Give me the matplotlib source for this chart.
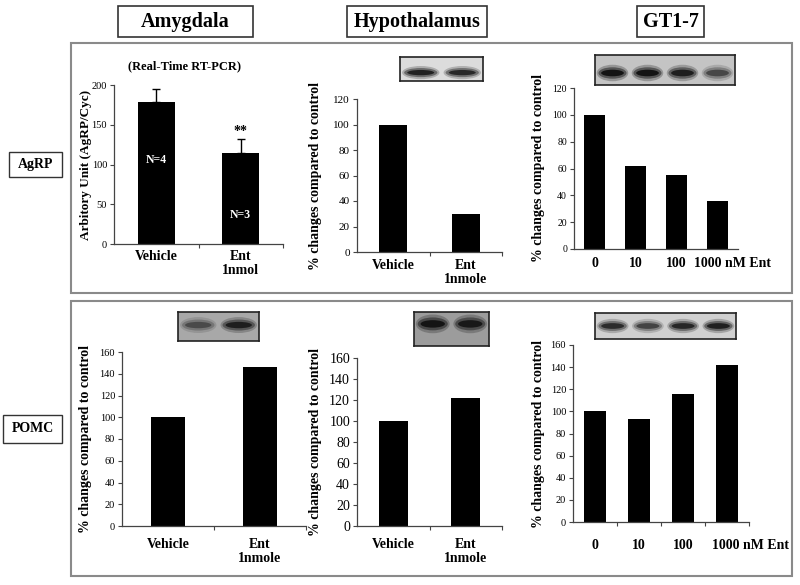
import matplotlib
matplotlib.use("Agg")
import matplotlib.pyplot as plt
from matplotlib.patches import Rectangle, Ellipse
from matplotlib.transforms import ScaledTranslation

plt.rcParams['font.family'] = ['Liberation Serif', 'DejaVu Serif']

W, H = 800, 585

# ---- data ----
agrp_amy_cats = ["Vehicle", "Ent\n1nmol"]
agrp_amy_vals = [178, 115]
agrp_amy_err = [17, 17]
agrp_amy_n = ["N=4", "N=3"]

agrp_hyp_cats = ["Vehicle", "Ent\n1nmole"]
agrp_hyp_vals = [100, 29.5]

agrp_gt_cats = ["0", "10", "100", "1000 nM Ent"]
agrp_gt_vals = [100, 62, 55, 36]

pomc_amy_cats = ["Vehicle", "Ent\n1nmole"]
pomc_amy_vals = [100, 146]

pomc_hyp_cats = ["Vehicle", "Ent\n1nmole"]
pomc_hyp_vals = [100, 122]

pomc_gt_cats = ["0", "10", "100", "1000 nM Ent"]
pomc_gt_vals = [100, 93, 116, 142]

# western blot band darkness per lane
agrp_hyp_bands = [0.85, 0.8]
agrp_gt_bands = [0.95, 0.95, 0.85, 0.55]
pomc_amy_bands = [0.45, 0.8]
pomc_hyp_bands = [0.9, 0.85]
pomc_gt_bands = [0.75, 0.6, 0.8, 0.85]

ylabel_pct = "% changes compared to control"

fig = plt.figure(figsize=(W / 100, H / 100), dpi=100)


def px_axes(x0, y0, x1, y1, **kw):
    return fig.add_axes([x0 / W, 1 - y1 / H, (x1 - x0) / W, (y1 - y0) / H], **kw)


# overlay in pixel coordinates for frames and header boxes
ov = px_axes(0, 0, W, H, zorder=-1)
ov.set_xlim(0, W)
ov.set_ylim(H, 0)
ov.axis("off")

for (x0, y0, x1, y1) in [(71, 43, 792, 293), (71, 301, 792, 576)]:
    ov.add_patch(Rectangle((x0, y0), x1 - x0, y1 - y0, fill=False, ec="#8a8a8a", lw=1.5))

headers = [("Amygdala", 118, 253), ("Hypothalamus", 347, 487), ("GT1-7", 637, 704)]
for name, x0, x1 in headers:
    ov.add_patch(Rectangle((x0, 6), x1 - x0, 31, fill=False, ec="#333333", lw=1.2))
    ov.text((x0 + x1) / 2, 22, name, ha="center", va="center", fontsize=14.5, fontweight="bold")

for name, x0, y0, x1, y1 in [("AgRP", 9, 152, 62, 177), ("POMC", 3, 415, 62, 443)]:
    ov.add_patch(Rectangle((x0, y0), x1 - x0, y1 - y0, fill=False, ec="#333333", lw=1.0))
    ov.text((x0 + x1) / 2, (y0 + y1) / 2, name, ha="center", va="center", fontsize=10, fontweight="bold")


def bar_panel(box, cats, vals, ymax, ystep, width, tick_fs, lab_x, xpad, xticks_between=True):
    x0, y0, x1, y1 = box
    ax = px_axes(x0, y0, x1, y1)
    pos = list(range(len(cats)))
    ax.bar(pos, vals, width=width, color="black", zorder=2)
    ax.set_xlim(-0.5, len(cats) - 0.5)
    ax.set_ylim(0, ymax)
    ax.set_yticks(range(0, ymax + 1, ystep))
    ax.tick_params(axis="y", labelsize=tick_fs, length=3, width=0.8, color="#444444", pad=2)
    ax.set_xticks(pos)
    ax.set_xticklabels(cats, fontsize=10, fontweight="bold", linespacing=1.1)
    ax.tick_params(axis="x", length=0, pad=xpad)
    if xticks_between:
        ax.set_xticks([p + 0.5 for p in pos], minor=True)
        ax.tick_params(axis="x", which="minor", length=3, width=0.8, color="#444444")
    for s in ["top", "right"]:
        ax.spines[s].set_visible(False)
    for s in ["left", "bottom"]:
        ax.spines[s].set_color("#444444")
        ax.spines[s].set_linewidth(0.9)
    ax.set_ylabel(ylabel_pct, fontsize=10, fontweight="bold")
    ax.yaxis.set_label_coords((lab_x - x0) / (x1 - x0), 0.5)
    return ax


def shift_last_label(ax, dx_px):
    # the long "1000 nM Ent" label starts a little left of its bar and runs right
    lab = ax.get_xticklabels()[-1]
    lab.set_ha("left")
    lab.set_transform(lab.get_transform() + ScaledTranslation(dx_px / 100, 0, fig.dpi_scale_trans))


def blot(box, bands, bg, yc):
    x0, y0, x1, y1 = box
    ax = px_axes(x0, y0, x1, y1)
    n = len(bands)
    ax.set_xlim(0, n)
    ax.set_ylim(0, 1)
    ax.set_facecolor(bg)
    ax.set_xticks([])
    ax.set_yticks([])
    for s in ax.spines.values():
        s.set_color("#222222")
        s.set_linewidth(1.2)
    for i, d in enumerate(bands):
        for w, h, a in [(0.9, 0.55, 0.25), (0.8, 0.38, 0.45), (0.65, 0.22, 0.8)]:
            ax.add_patch(Ellipse((i + 0.5, yc), w, h, color="black", alpha=a * d, lw=0))
    return ax


# ---- AgRP / Amygdala (real-time RT-PCR) ----
ax = bar_panel((114, 85, 283, 244), agrp_amy_cats, agrp_amy_vals, 200, 50, 0.44, 7.5, 92, 4)
ax.set_ylabel("Arbitory Unit (AgRP/Cyc)", fontsize=9.5, fontweight="bold")
ax.errorbar(range(2), agrp_amy_vals, yerr=[[0, 0], agrp_amy_err], fmt="none",
            ecolor="black", elinewidth=1, capsize=3, zorder=1)
ax.text(0, 106, agrp_amy_n[0], color="white", ha="center", va="center", fontsize=8.5, fontweight="bold")
ax.text(1, 36, agrp_amy_n[1], color="white", ha="center", va="center", fontsize=8.5, fontweight="bold")
ax.text(1, agrp_amy_vals[1] + agrp_amy_err[1] + 1, "**", ha="center", va="bottom", fontsize=10, fontweight="bold")
ov.text(185, 66, "(Real-Time RT-PCR)", ha="center", va="center", fontsize=9, fontweight="bold")

# ---- AgRP / Hypothalamus ----
bar_panel((357, 99, 502, 252), agrp_hyp_cats, agrp_hyp_vals, 120, 20, 0.38, 8, 322, 5)
blot((400, 57, 483, 81), agrp_hyp_bands, "#dcdcdc", 0.35)

# ---- AgRP / GT1-7 ----
ax = bar_panel((574, 88, 738, 249), agrp_gt_cats, agrp_gt_vals, 120, 20, 0.52, 7, 545, 6, xticks_between=False)
shift_last_label(ax, -24)
blot((595, 55, 735, 85), agrp_gt_bands, "#c4c4c4", 0.4)

# ---- POMC / Amygdala ----
bar_panel((122, 352, 306, 526), pomc_amy_cats, pomc_amy_vals, 160, 20, 0.36, 7.5, 92, 9)
blot((178, 312, 259, 341), pomc_amy_bands, "#a8a8a8", 0.55)

# ---- POMC / Hypothalamus ----
bar_panel((357, 358, 502, 526), pomc_hyp_cats, pomc_hyp_vals, 160, 20, 0.4, 10, 322, 9)
blot((414, 312, 489, 346), pomc_hyp_bands, "#9c9c9c", 0.65)

# ---- POMC / GT1-7 ----
ax = bar_panel((573, 345, 749, 522), pomc_gt_cats, pomc_gt_vals, 160, 20, 0.48, 7.5, 545, 12)
shift_last_label(ax, -15)
blot((595, 313, 736, 339), pomc_gt_bands, "#d0d0d0", 0.5)

fig.savefig("out.png", dpi=100)
